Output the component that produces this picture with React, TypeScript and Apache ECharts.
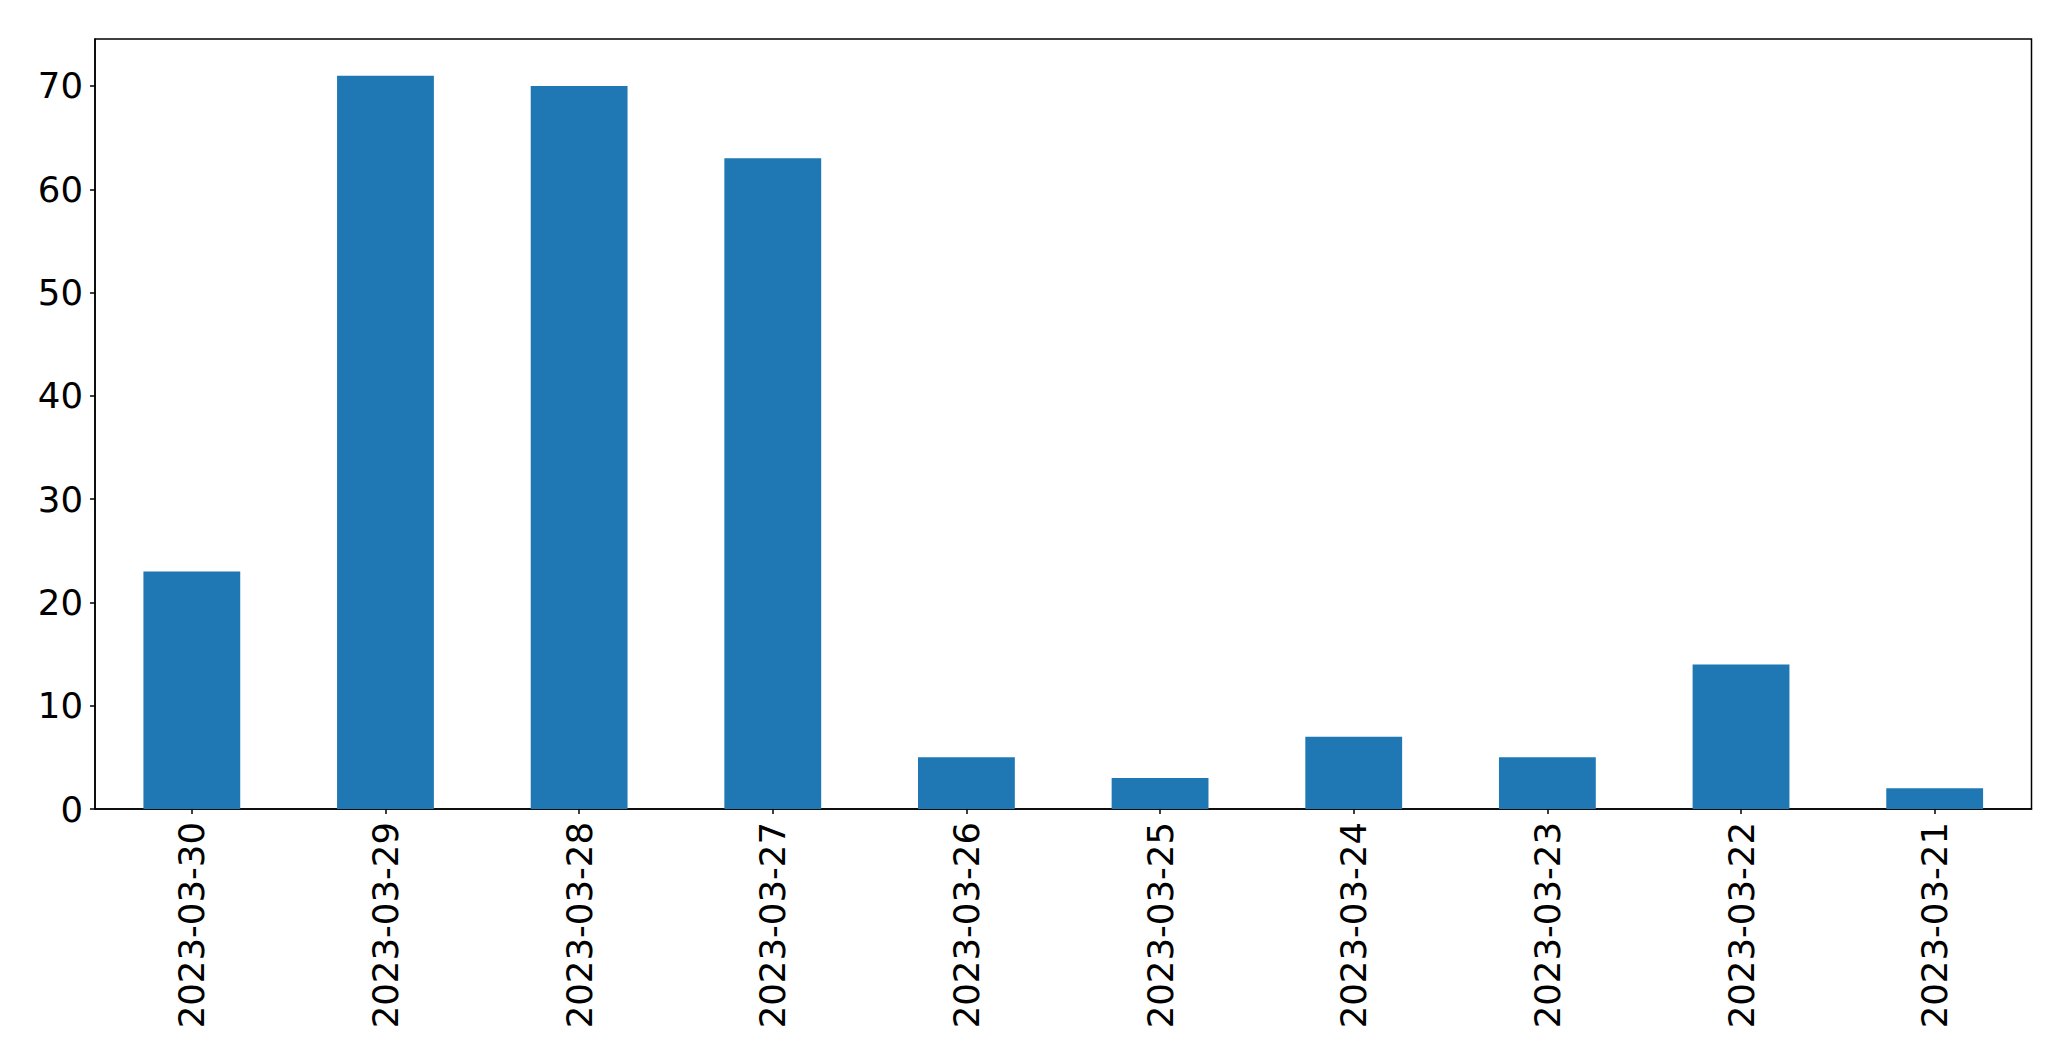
import React, { useEffect, useRef } from "react";
import * as echarts from "echarts";

const categories = [
  "2023-03-30",
  "2023-03-29",
  "2023-03-28",
  "2023-03-27",
  "2023-03-26",
  "2023-03-25",
  "2023-03-24",
  "2023-03-23",
  "2023-03-22",
  "2023-03-21",
];
const values = [23, 71, 70, 63, 5, 3, 7, 5, 14, 2];
const yTicks = [0, 10, 20, 30, 40, 50, 60, 70];
const yMax = 74.55;

export default function App() {
  const ref = useRef<HTMLDivElement>(null);
  useEffect(() => {
    document.body.style.margin = "0";
    const chart = echarts.init(ref.current!, null, { renderer: "svg" });
    const font = "DejaVu Sans";
    chart.setOption({
      animation: false,
      backgroundColor: "#ffffff",
      grid: {
        left: 95,
        top: 39,
        right: 39.5,
        bottom: 252,
        show: true,
        borderColor: "#000000",
        borderWidth: 1.5,
        backgroundColor: "transparent",
      },
      xAxis: {
        type: "category",
        data: categories,
        axisLine: { show: true, lineStyle: { color: "#000", width: 1.5 } },
        axisTick: { show: true, alignWithLabel: true, length: 5, lineStyle: { color: "#000", width: 1.5 } },
        axisLabel: {
          rotate: 90,
          fontSize: 35.5,
          fontFamily: font,
          color: "#000",
          margin: 13,
        },
        splitLine: { show: false },
      },
      yAxis: {
        type: "value",
        min: 0,
        max: yMax,
        axisLine: { show: true, lineStyle: { color: "#000", width: 1.5 } },
        axisTick: { show: true, length: 5, customValues: yTicks, lineStyle: { color: "#000", width: 1.5 } },
        axisLabel: {
          customValues: yTicks,
          fontSize: 35.5,
          fontFamily: font,
          color: "#000",
          margin: 12,
        },
        splitLine: { show: false },
      },
      series: [
        {
          type: "bar",
          data: values,
          barWidth: "50%",
          itemStyle: { color: "#1f77b4" },
        },
      ],
    });
    return () => chart.dispose();
  }, []);
  return <div ref={ref} style={{ width: 2071, height: 1061 }} />;
}
